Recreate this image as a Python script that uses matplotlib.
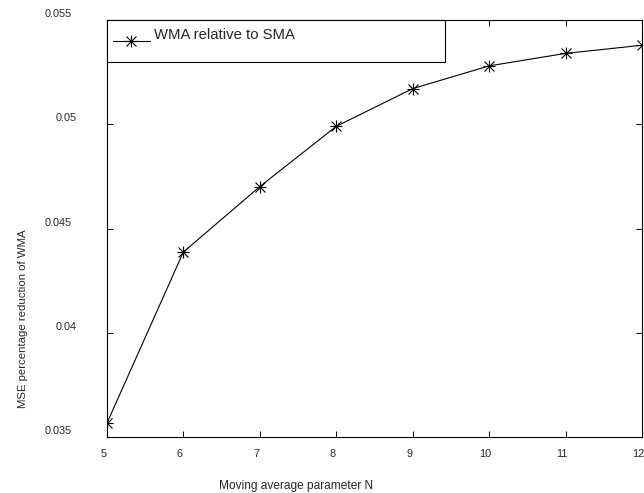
import matplotlib
matplotlib.use('Agg')
import matplotlib.pyplot as plt
import matplotlib.transforms as mtransforms
from matplotlib.patches import Rectangle
from matplotlib.legend_handler import HandlerTuple

# data
n_values = [5, 6, 7, 8, 9, 10, 11, 12]
mse_reduction = [0.03566, 0.04387, 0.04701, 0.0499, 0.05171, 0.0528, 0.0534, 0.05379]
y_ticks = [0.035, 0.04, 0.045, 0.05, 0.055]
y_tick_labels = ['0.035', '0.04', '0.045', '0.05', '0.055']
x_ticks = [5, 6, 7, 8, 9, 10, 11, 12]

plt.rcParams['font.family'] = ['Liberation Sans', 'DejaVu Sans']
text_color = '#262626'


class LoweredHandler(HandlerTuple):
    # the reference draws the legend sample a little below the text
    def create_artists(self, legend, orig_handle, xdescent, ydescent,
                       width, height, fontsize, trans):
        return super().create_artists(legend, orig_handle, xdescent, ydescent + 11,
                                      width, height, fontsize, trans)


fig = plt.figure(figsize=(6.44, 4.93), dpi=100)
ax = fig.add_axes([0.166, 0.1136, 0.831, 0.8458])

# MATLAB style asterisk = plus + cross
l_plus, = ax.plot(n_values, mse_reduction, color='black', linewidth=0.8,
                  marker='+', markersize=9, markeredgewidth=0.8)
l_x, = ax.plot(n_values, mse_reduction, color='black', linewidth=0,
               marker='x', markersize=6.5, markeredgewidth=0.8)

ax.set_xlim(5, 12)
ax.set_ylim(0.035, 0.055)
ax.set_xticks(x_ticks)
ax.set_yticks(y_ticks)
ax.set_yticklabels(y_tick_labels)

ax.tick_params(direction='in', length=4, width=0.7, top=True, right=True,
               labelsize=7.8, labelcolor=text_color)
ax.tick_params(axis='y', pad=21.5)
ax.tick_params(axis='x', pad=9)
for sp in ax.spines.values():
    sp.set_linewidth(0.8)

# labels in the reference sit a bit above their ticks
for lbl in ax.get_yticklabels():
    dx = -3.6 / 72 if len(lbl.get_text()) == 5 else 0
    off = mtransforms.ScaledTranslation(dx, 5 / 72, fig.dpi_scale_trans)
    lbl.set_transform(lbl.get_transform() + off)
for lbl in ax.get_xticklabels():
    off = mtransforms.ScaledTranslation(-2.5 / 72, 0, fig.dpi_scale_trans)
    lbl.set_transform(lbl.get_transform() + off)

ax.set_xlabel('Moving average parameter N', fontsize=8.6, color=text_color)
ax.set_ylabel('MSE percentage reduction of WMA', fontsize=8.2, color=text_color)
ax.xaxis.set_label_coords(0.353, -0.103)
ax.yaxis.set_label_coords(-0.148, 0.283)

# legend frame drawn separately (box is larger than its content)
ax.add_patch(Rectangle((0, 0.8993), 0.632, 0.1007, transform=ax.transAxes,
                       facecolor='white', edgecolor='black', linewidth=0.8,
                       zorder=4, clip_on=False))
leg = ax.legend([(l_plus, l_x)], ['WMA relative to SMA'],
                handler_map={tuple: LoweredHandler(ndivide=1)},
                loc='upper left', bbox_to_anchor=(0.0112, 0.982),
                borderaxespad=0, borderpad=0, fontsize=10.7, frameon=False,
                handlelength=2.5, handletextpad=0.25)
leg.set_zorder(5)
for t in leg.get_texts():
    t.set_color(text_color)

fig.savefig('out.png', dpi=100)
